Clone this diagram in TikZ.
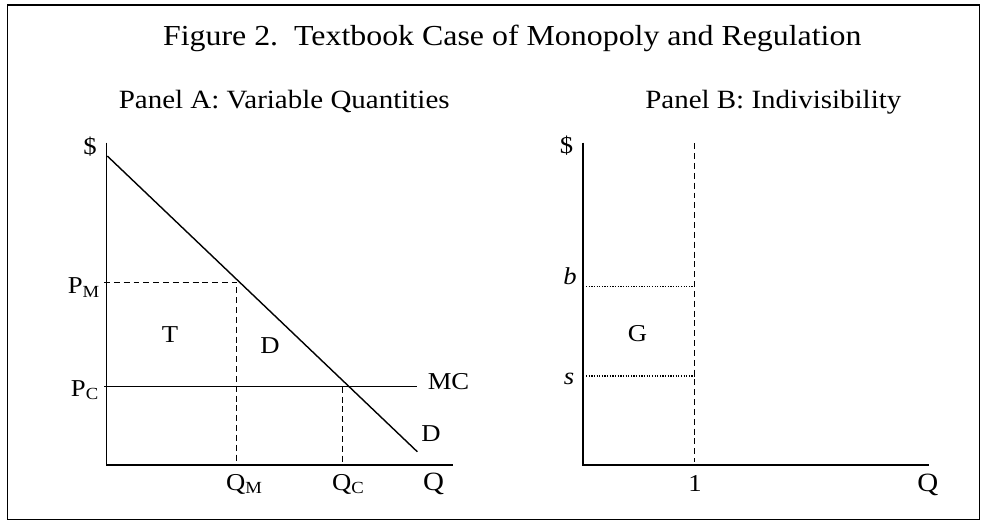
\documentclass[tikz,border=0pt]{standalone}
\usepackage{fontspec}
\setmainfont{Liberation Serif}[FakeStretch=1.1]
\usetikzlibrary{positioning}
\tikzset{
  framebox/.style={line width=0.95pt},
  axisline/.style={line width=0.9pt},
  curveline/.style={line width=0.8pt},
  guideline/.style={line width=0.9pt,dash pattern=on 3.4pt off 2.2pt},
  dotline/.style={line width=0.6pt,dash pattern=on 0.7pt off 0.8pt},
  lbl/.style={inner sep=0pt,font=\fontsize{13.8}{16}\selectfont},
  ttl/.style={inner sep=0pt,font=\fontsize{15}{18}\selectfont},
  every picture/.style={line join=miter}
}
\begin{document}
\begin{tikzpicture}[x=0.02cm,y=-0.02cm]
  \useasboundingbox (0,0) rectangle (982,525);
  \coordinate (fa) at (7.5,4.7);
  \coordinate (fb) at (979.5,519.5);
  \draw[framebox] (fa) rectangle (fb);
  \node[ttl,anchor=base west,font=\fontsize{16.5}{19}\selectfont] (title) at (162.7,45) {Figure 2.\ \ Textbook Case of Monopoly and Regulation};
  \node[ttl,anchor=base] (titleA) at (284.2,108.3) {Panel A: Variable Quantities};
  \node[ttl,anchor=base] (titleB) at (773.3,108.3) {Panel B: Indivisibility};

  % panel A
  \coordinate (oA) at (106.7,465);
  \coordinate (yA) at (106.7,142.7);
  \coordinate (xA) at (453.3,465);
  \draw[axisline] (yA) -- (oA) -- (xA);
  \coordinate (dtop) at (107.3,156);
  \coordinate (dend) at (417.3,451.7);
  \draw[curveline] (dtop) -- (dend);
  \coordinate (pm) at (104,282.3);
  \coordinate (mono) at (236.7,282.3);
  \coordinate (qm) at (236.7,465);
  \draw[guideline] (pm) -- (mono) -- (qm);
  \coordinate (pc) at (104,386.7);
  \coordinate (mcend) at (417.3,386.7);
  \draw[curveline] (pc) -- (mcend);
  \coordinate (comp) at (342.7,386.7);
  \coordinate (qc) at (342.7,465);
  \draw[guideline] (comp) -- (qc);
  \node[lbl] (dollarA) at (90,147) {\$};
  \node[lbl,anchor=base east] (pmlbl) at (100.5,293.3) {P\textsubscript{M}};
  \node[lbl,anchor=base east] (pclbl) at (99.5,396) {P\textsubscript{C}};
  \node[lbl] (tlbl) at (170,334.5) {T};
  \node[lbl] (dwl) at (270,345.5) {D};
  \node[lbl] (mclbl) at (448.5,381.5) {MC};
  \node[lbl] (dlbl) at (431,434) {D};
  \node[lbl,anchor=base west] (qmlbl) at (225.7,490) {Q\textsubscript{M}};
  \node[lbl,anchor=base west] (qclbl) at (331.7,490) {Q\textsubscript{C}};
  \node[ttl,anchor=base west] (qA) at (422.7,490) {Q};

  % panel B
  \coordinate (oB) at (582.7,465);
  \coordinate (yB) at (582.7,142.7);
  \coordinate (xB) at (929.3,465);
  \draw[axisline] (yB) -- (oB) -- (xB);
  \coordinate (onetop) at (694.3,143.3);
  \coordinate (onebot) at (694.3,462);
  \draw[guideline] (onetop) -- (onebot);
  \coordinate (bl) at (586,286.7);
  \coordinate (br) at (694.3,286.7);
  \draw[dotline] (bl) -- (br);
  \coordinate (sl) at (586,376);
  \coordinate (sr) at (694.3,376);
  \draw[dotline] (sl) -- (sr);
  \node[lbl] (dollarB) at (566.5,146) {\$};
  \node[lbl,anchor=base] (blbl) at (570,284) {\textit{b}};
  \node[lbl,anchor=base] (slbl) at (569,384) {\textit{s}};
  \node[lbl] (glbl) at (637.5,334) {G};
  \node[lbl,anchor=base] (onelbl) at (695,491) {1};
  \node[ttl,anchor=base west] (qB) at (917,491) {Q};
\end{tikzpicture}
\end{document}
